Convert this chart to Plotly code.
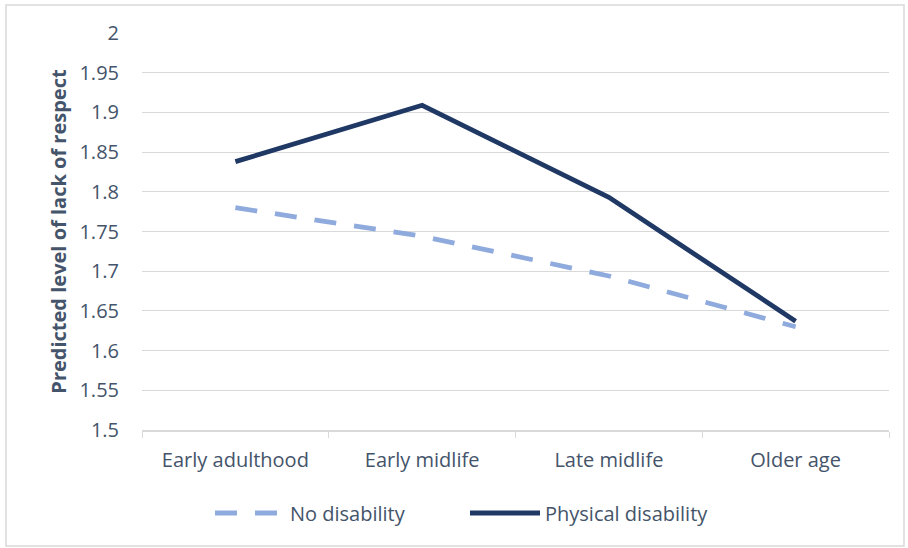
import plotly.graph_objects as go

categories = ["Early adulthood", "Early midlife", "Late midlife", "Older age"]
no_disability = [1.780, 1.744, 1.694, 1.630]
physical_disability = [1.838, 1.909, 1.793, 1.637]
y_ticks = [1.5, 1.55, 1.6, 1.65, 1.7, 1.75, 1.8, 1.85, 1.9, 1.95, 2]
y_tick_labels = ["1.5", "1.55", "1.6", "1.65", "1.7", "1.75", "1.8", "1.85", "1.9", "1.95", "2"]

W, H = 908, 548
ml, mr, mt, mb = 142, 19, 33, 118
pw, ph = W - ml - mr, H - mt - mb

text_color = "#44546A"
font_family = "'Open Sans', sans-serif"

fig = go.Figure()
fig.add_trace(go.Scatter(
    x=categories, y=no_disability, mode="lines", name="No disability",
    line=dict(color="#8FAADC", width=4.8, dash="22px,18px"),
))
fig.add_trace(go.Scatter(
    x=categories, y=physical_disability, mode="lines", name="Physical disability",
    line=dict(color="#1F3864", width=4.8),
))

def px_x(p):
    return (p - ml) / pw

def px_y(p):
    return (H - mb - p) / ph

fig.update_layout(
    width=W, height=H,
    margin=dict(l=ml, r=mr, t=mt, b=mb),
    paper_bgcolor="white", plot_bgcolor="white",
    font=dict(family=font_family, color=text_color, size=20),
    showlegend=True,
    legend=dict(orientation="h", x=px_x(210), xanchor="left", y=px_y(513), yanchor="middle",
                font=dict(size=20, color=text_color), itemwidth=70,
                entrywidth=170, entrywidthmode="pixels",
                traceorder="normal"),
    xaxis=dict(
        type="category", showgrid=False, showline=True, linecolor="#D9D9D9", linewidth=1.5,
        ticks="outside", tickson="boundaries", ticklen=6, tickcolor="#D9D9D9",
        tickfont=dict(size=20, color=text_color), ticklabelstandoff=11, range=[-0.5, 3.5],
    ),
    yaxis=dict(
        range=[1.5, 2.0], tickvals=y_ticks, ticktext=y_tick_labels,
        showgrid=True, gridcolor="#D9D9D9", gridwidth=1.2, zeroline=False, showline=False,
        tickfont=dict(size=20, color=text_color), ticklabelstandoff=22,
        title=dict(text="<b>Predicted level of lack of respect</b>",
                   font=dict(size=20, color=text_color), standoff=7),
    ),
    shapes=[dict(type="rect", xref="paper", yref="paper",
                 x0=px_x(6), x1=px_x(904), y0=px_y(546), y1=px_y(5),
                 line=dict(color="#D9D9D9", width=1.5), fillcolor="rgba(0,0,0,0)",
                 layer="below")],
)

fig.write_html("out.html")
